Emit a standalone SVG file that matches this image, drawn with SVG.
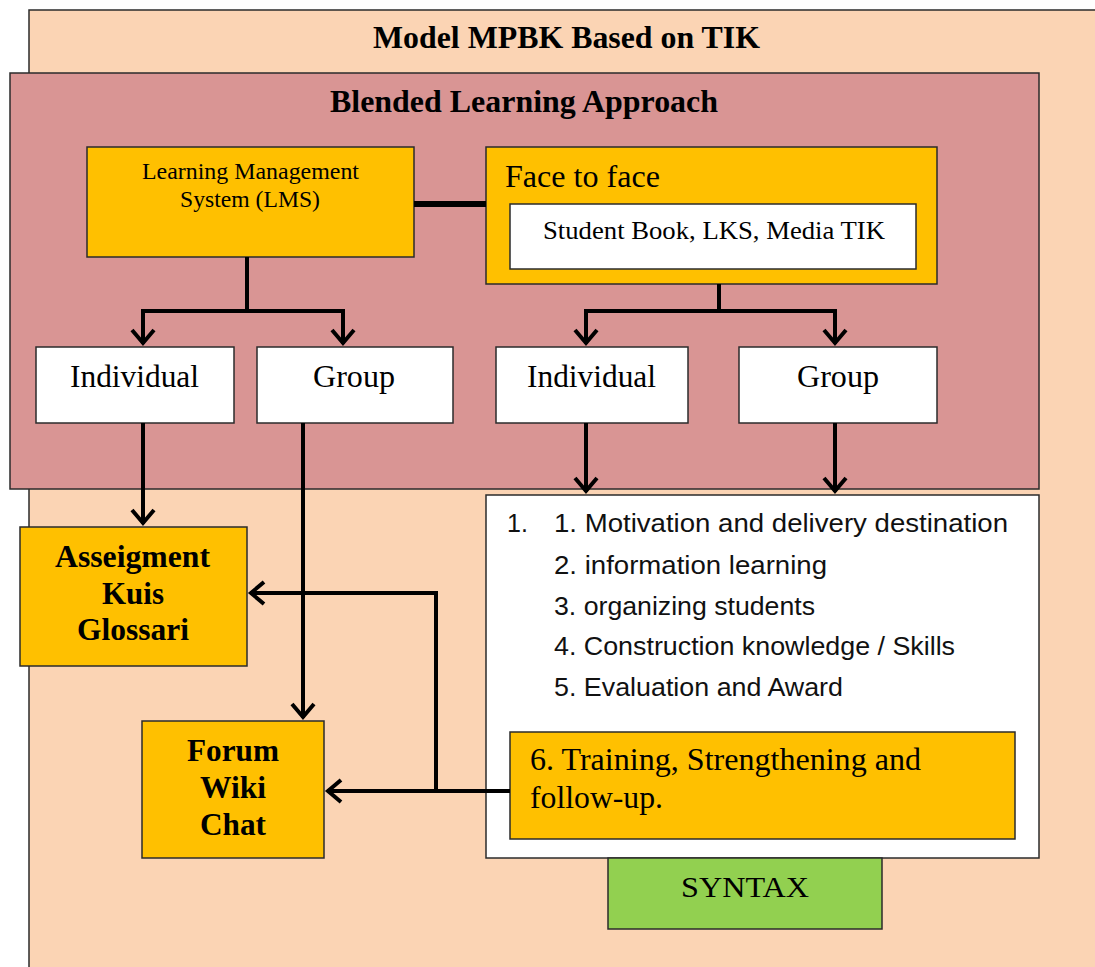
<svg xmlns="http://www.w3.org/2000/svg" width="1095" height="967" viewBox="0 0 1095 967">
<defs>
<style>
.box{stroke:#2b2b2b;stroke-width:1.5}
.peach{fill:#FBD4B4}
.rose{fill:#D99594}
.orange{fill:#FFC000}
.white{fill:#FFFFFF}
.green{fill:#92D050}
.serif{font-family:"Liberation Serif","Times New Roman",serif;fill:#000}
.bold{font-weight:bold}
.sans{font-family:"Liberation Sans",Arial,sans-serif;fill:#111}
.line{stroke:#000;stroke-width:4;fill:none}
</style>
<marker id="arr" markerUnits="userSpaceOnUse" viewBox="-20 -15 30 30" markerWidth="30" markerHeight="30" refX="0" refY="0" orient="auto">
<path d="M-14,-11 L-1,0 L-14,11" fill="none" stroke="#000" stroke-width="4" stroke-linejoin="miter"/>
</marker>
</defs>

<g id="outer">
<rect class="box peach" x="29" y="10" width="1080" height="970"/>
<text class="serif bold" x="373" y="48" font-size="31" textLength="387" lengthAdjust="spacingAndGlyphs">Model MPBK Based on TIK</text>
</g>

<g id="blended">
<rect class="box rose" x="10" y="73" width="1029" height="416"/>
<text class="serif bold" x="330" y="112" font-size="31" textLength="388" lengthAdjust="spacingAndGlyphs">Blended Learning Approach</text>
</g>

<g id="lms">
<rect class="box orange" x="87" y="147" width="327" height="110"/>
<text class="serif" x="142" y="179" font-size="23" textLength="217" lengthAdjust="spacingAndGlyphs">Learning Management</text>
<text class="serif" x="180" y="207" font-size="23" textLength="140" lengthAdjust="spacingAndGlyphs">System (LMS)</text>
</g>

<g id="face">
<rect class="box orange" x="486" y="147" width="451" height="137"/>
<text class="serif" x="505" y="187" font-size="31" textLength="155" lengthAdjust="spacingAndGlyphs">Face to face</text>
</g>

<g id="books">
<rect class="box white" x="510" y="204" width="406" height="65"/>
<text class="serif" x="543" y="239" font-size="25" textLength="342" lengthAdjust="spacingAndGlyphs">Student Book, LKS, Media TIK</text>
</g>

<g id="ind1">
<rect class="box white" x="36" y="347" width="198" height="76"/>
<text class="serif" x="70" y="387" font-size="31" textLength="129" lengthAdjust="spacingAndGlyphs">Individual</text>
</g>
<g id="grp1">
<rect class="box white" x="257" y="347" width="196" height="76"/>
<text class="serif" x="313" y="387" font-size="31" textLength="82" lengthAdjust="spacingAndGlyphs">Group</text>
</g>
<g id="ind2">
<rect class="box white" x="496" y="347" width="192" height="76"/>
<text class="serif" x="527" y="387" font-size="31" textLength="129" lengthAdjust="spacingAndGlyphs">Individual</text>
</g>
<g id="grp2">
<rect class="box white" x="739" y="347" width="198" height="76"/>
<text class="serif" x="797" y="387" font-size="31" textLength="82" lengthAdjust="spacingAndGlyphs">Group</text>
</g>

<g id="assignment">
<rect class="box orange" x="20" y="527" width="227" height="139"/>
<text class="serif bold" x="55" y="567" font-size="31" textLength="155" lengthAdjust="spacingAndGlyphs">Asseigment</text>
<text class="serif bold" x="102" y="604" font-size="31" textLength="62" lengthAdjust="spacingAndGlyphs">Kuis</text>
<text class="serif bold" x="77" y="640" font-size="31" textLength="112" lengthAdjust="spacingAndGlyphs">Glossari</text>
</g>

<g id="forum">
<rect class="box orange" x="142" y="721" width="182" height="137"/>
<text class="serif bold" x="187" y="761" font-size="31" textLength="92" lengthAdjust="spacingAndGlyphs">Forum</text>
<text class="serif bold" x="200" y="798" font-size="31" textLength="66" lengthAdjust="spacingAndGlyphs">Wiki</text>
<text class="serif bold" x="200" y="835" font-size="31" textLength="66" lengthAdjust="spacingAndGlyphs">Chat</text>
</g>

<g id="syntax-list">
<rect class="box white" x="486" y="495" width="553" height="363"/>
<text class="sans" x="507" y="532" font-size="25">1.</text>
<text class="sans" x="554" y="532" font-size="25" textLength="454" lengthAdjust="spacingAndGlyphs">1. Motivation and delivery destination</text>
<text class="sans" x="554" y="574" font-size="25" textLength="273" lengthAdjust="spacingAndGlyphs">2. information learning</text>
<text class="sans" x="554" y="615" font-size="25" textLength="261" lengthAdjust="spacingAndGlyphs">3. organizing students</text>
<text class="sans" x="554" y="655" font-size="25" textLength="401" lengthAdjust="spacingAndGlyphs">4. Construction knowledge / Skills</text>
<text class="sans" x="554" y="696" font-size="25" textLength="289" lengthAdjust="spacingAndGlyphs">5. Evaluation and Award</text>
</g>

<g id="training">
<rect class="box orange" x="510" y="732" width="505" height="107"/>
<text class="serif" x="530" y="770" font-size="31" textLength="391" lengthAdjust="spacingAndGlyphs">6. Training, Strengthening and</text>
<text class="serif" x="530" y="808" font-size="31" textLength="133" lengthAdjust="spacingAndGlyphs">follow-up.</text>
</g>

<g id="syntax">
<rect class="box green" x="608" y="858" width="274" height="71"/>
<text class="serif" x="681" y="897" font-size="30" textLength="128" lengthAdjust="spacingAndGlyphs">SYNTAX</text>
</g>

<g id="connectors">
<line x1="414" y1="204" x2="486" y2="204" stroke="#000" stroke-width="6"/>
<polyline class="line" points="247,257 247,311"/>
<polyline class="line" points="143,311 343,311"/>
<line class="line" x1="143" y1="309" x2="143" y2="344" marker-end="url(#arr)"/>
<line class="line" x1="343" y1="309" x2="343" y2="344" marker-end="url(#arr)"/>
<polyline class="line" points="719,284 719,311"/>
<polyline class="line" points="586,311 835,311"/>
<line class="line" x1="586" y1="309" x2="586" y2="344" marker-end="url(#arr)"/>
<line class="line" x1="835" y1="309" x2="835" y2="344" marker-end="url(#arr)"/>
<line class="line" x1="586" y1="423" x2="586" y2="492" marker-end="url(#arr)"/>
<line class="line" x1="835" y1="423" x2="835" y2="492" marker-end="url(#arr)"/>
<line class="line" x1="143" y1="423" x2="143" y2="524" marker-end="url(#arr)"/>
<line class="line" x1="303" y1="423" x2="303" y2="718" marker-end="url(#arr)"/>
<line class="line" x1="510" y1="791" x2="327" y2="791" marker-end="url(#arr)"/>
<polyline class="line" points="436,791 436,593 250,593" marker-end="url(#arr)"/>
</g>
</svg>
